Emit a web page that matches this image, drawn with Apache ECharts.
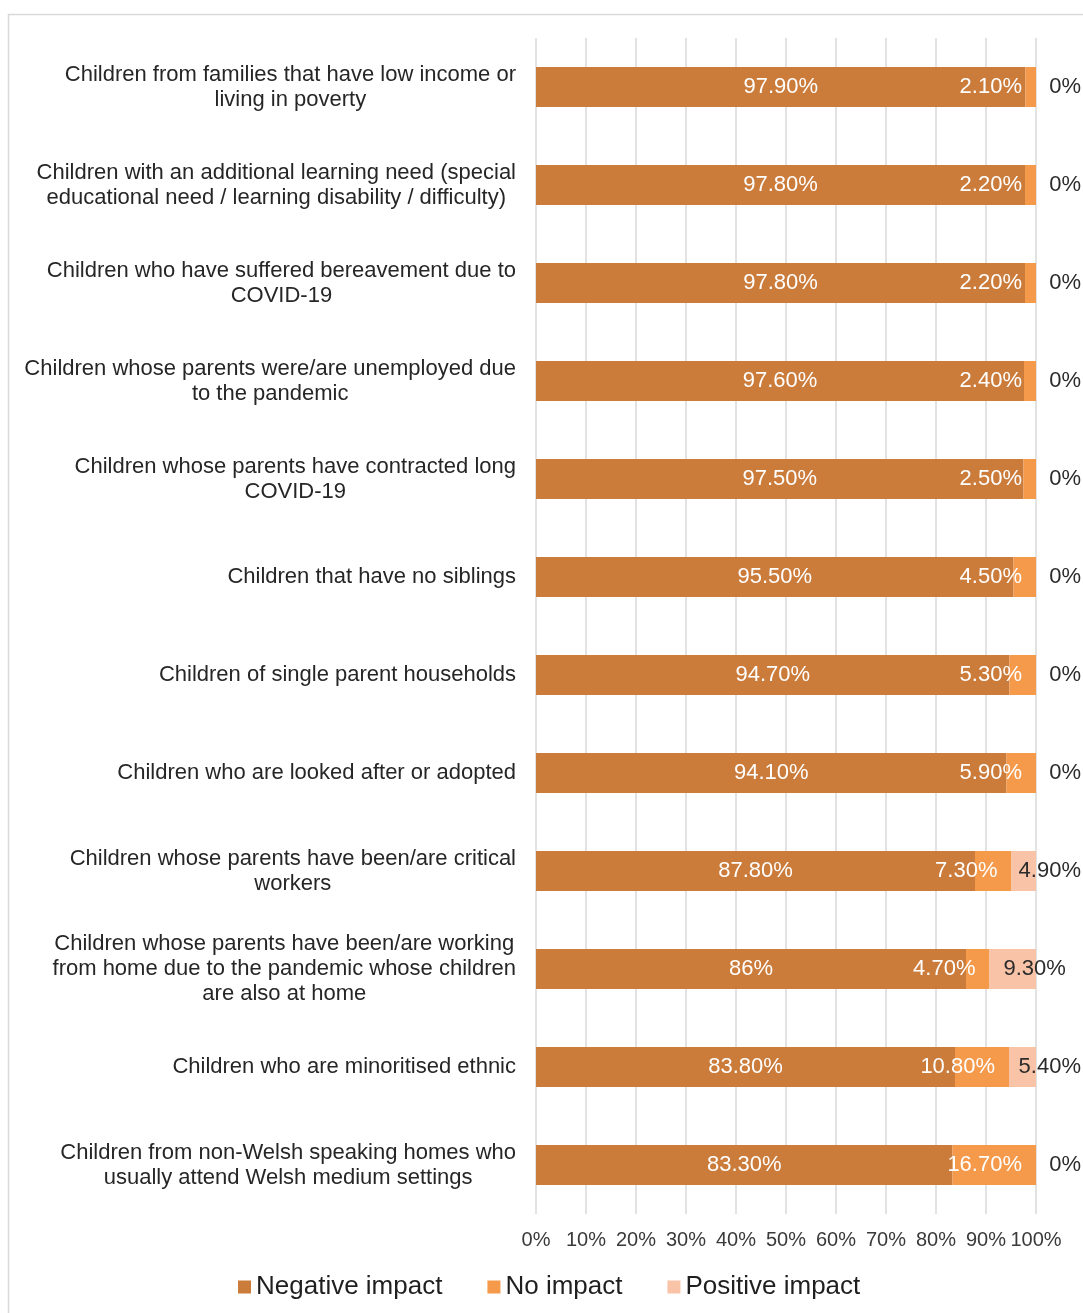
<!DOCTYPE html>
<html>
<head>
<meta charset="utf-8">
<title>Impact on groups of children</title>
<script src="https://cdn.jsdelivr.net/npm/echarts@6/dist/echarts.min.js"></script>
<style>
  html, body { margin: 0; padding: 0; background: #fff; }
  #chart { width: 1083px; height: 1313px; }
</style>
</head>
<body>
<div id="chart"></div>
<script>
// Groups of children, top to bottom
const categories = [
  'Children from families that have low income or\nliving in poverty',
  'Children with an additional learning need (special\neducational need / learning disability / difficulty)',
  'Children who have suffered bereavement due to\nCOVID-19',
  'Children whose parents were/are unemployed due\nto the pandemic',
  'Children whose parents have contracted long\nCOVID-19',
  'Children that have no siblings',
  'Children of single parent households',
  'Children who are looked after or adopted',
  'Children whose parents have been/are critical\nworkers',
  'Children whose parents have been/are working\nfrom home due to the pandemic whose children\nare also at home',
  'Children who are minoritised ethnic',
  'Children from non-Welsh speaking homes who\nusually attend Welsh medium settings'
];

// Share of responses (%)
const negativeImpact = [97.9, 97.8, 97.8, 97.6, 97.5, 95.5, 94.7, 94.1, 87.8, 86, 83.8, 83.3];
const noImpact       = [2.1, 2.2, 2.2, 2.4, 2.5, 4.5, 5.3, 5.9, 7.3, 4.7, 10.8, 16.7];
const positiveImpact = [0, 0, 0, 0, 0, 0, 0, 0, 4.9, 9.3, 5.4, 0];

const seriesNames = ['Negative impact', 'No impact', 'Positive impact'];
const axisTicks = [0, 10, 20, 30, 40, 50, 60, 70, 80, 90, 100];

const FONT = '"Liberation Sans", Arial, sans-serif';
const fmtPct = v => (Number.isInteger(v) ? v : v.toFixed(2)) + '%';

const chart = echarts.init(document.getElementById('chart'), null, { renderer: 'canvas' });

const PLOT_RIGHT = 1036;
const LABEL_LIMIT = 1081;

chart.setOption({
  animation: false,
  backgroundColor: '#ffffff',
  textStyle: { fontFamily: FONT },
  graphic: [{
    type: 'rect',
    shape: { x: 8.5, y: 14.5, width: 1100, height: 1340 },
    style: { fill: 'none', stroke: '#d9d9d9', lineWidth: 1.5 },
    silent: true
  }],
  grid: { left: 536, right: 1083 - PLOT_RIGHT, top: 38, bottom: 99, containLabel: false },
  legend: {
    data: seriesNames,
    left: 233,
    bottom: 8,
    itemWidth: 13,
    itemHeight: 13,
    itemGap: 45,
    icon: 'rect',
    textStyle: { fontSize: 26, color: '#1f1f1f', fontFamily: FONT }
  },
  xAxis: {
    type: 'value',
    min: axisTicks[0],
    max: axisTicks[axisTicks.length - 1],
    interval: 10,
    axisLine: { show: false },
    axisTick: { show: false },
    splitLine: { show: true, lineStyle: { color: '#d9d9d9', width: 1.5 } },
    axisLabel: {
      formatter: v => v + '%',
      fontSize: 20,
      color: '#3a3a3a',
      margin: 16,
      hideOverlap: false,
      fontFamily: FONT
    }
  },
  yAxis: {
    type: 'category',
    data: categories,
    inverse: true,
    axisLine: { show: false },
    axisTick: { show: false },
    splitLine: { show: false },
    axisLabel: {
      align: 'right',
      margin: 20,
      interval: 0,
      formatter: v => v.split('\n').map(l => '{c|' + l + '}').join('\n'),
      rich: {
        c: { align: 'center', fontSize: 22, lineHeight: 25, color: '#262626', fontFamily: FONT }
      }
    }
  },
  series: [
    {
      name: seriesNames[0],
      type: 'bar',
      stack: 'total',
      barWidth: 40,
      data: negativeImpact,
      itemStyle: { color: '#cb7b3a' },
      label: {
        show: true,
        position: 'inside',
        formatter: p => fmtPct(p.value),
        color: '#ffffff',
        fontSize: 22,
        fontFamily: FONT
      }
    },
    {
      name: seriesNames[1],
      type: 'bar',
      stack: 'total',
      barWidth: 40,
      data: noImpact,
      itemStyle: { color: '#f5994a' },
      label: {
        show: true,
        position: 'insideRight',
        distance: 14,
        formatter: p => fmtPct(p.value),
        color: '#ffffff',
        fontSize: 22,
        fontFamily: FONT
      }
    },
    {
      name: seriesNames[2],
      type: 'bar',
      stack: 'total',
      barWidth: 40,
      data: positiveImpact,
      itemStyle: { color: '#f8c3a7' },
      label: {
        show: true,
        position: 'insideLeft',
        distance: 14,
        formatter: p => fmtPct(p.value),
        color: '#2b2b2b',
        fontSize: 22,
        fontFamily: FONT
      },
      // keep the end-of-bar labels inside the frame
      labelLayout: params => {
        const r = params.labelRect;
        const over = r.x + r.width - LABEL_LIMIT;
        return over > 0 ? { dx: -over } : {};
      }
    }
  ]
});
</script>
</body>
</html>
